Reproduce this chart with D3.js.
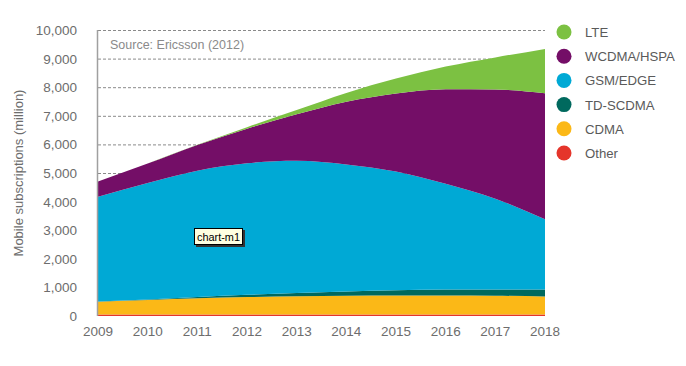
<!DOCTYPE html>
<html>
<head>
<meta charset="utf-8">
<script src="https://cdn.jsdelivr.net/npm/d3@7"></script>
<style>
  body { margin: 0; background: #fff; }
  svg { display: block; font-family: "Liberation Sans", Arial, sans-serif; }
</style>
</head>
<body>
<svg id="chart" width="686" height="366"></svg>
<script>
// Data (million subscriptions)
const years = [2009, 2010, 2011, 2012, 2013, 2014, 2015, 2016, 2017, 2018];
const seriesNames = ["Other", "CDMA", "TD-SCDMA", "GSM/EDGE", "WCDMA/HSPA", "LTE"];
const other = [50, 50, 50, 50, 50, 50, 50, 50, 50, 50];
const cdma = [450, 510, 570, 610, 640, 660, 670, 670, 660, 630];
const tdscdma = [10, 20, 40, 80, 110, 150, 180, 210, 220, 250];
const gsm = [3660, 4070, 4420, 4600, 4630, 4440, 4150, 3690, 3170, 2450];
const wcdma = [530, 680, 900, 1210, 1620, 2190, 2730, 3310, 3820, 4410];
const lte = [0, 0, 5, 50, 150, 310, 520, 790, 1120, 1550];
const yTicks = [0, 1000, 2000, 3000, 4000, 5000, 6000, 7000, 8000, 9000, 10000];
const legendOrder = ["LTE", "WCDMA/HSPA", "GSM/EDGE", "TD-SCDMA", "CDMA", "Other"];

const colors = {
  "LTE": "#7cc142",
  "WCDMA/HSPA": "#740e67",
  "GSM/EDGE": "#00a9d5",
  "TD-SCDMA": "#00695e",
  "CDMA": "#fbb817",
  "Other": "#e5352b"
};

const svg = d3.select("#chart");
const x = d3.scaleLinear().domain([2009, 2018]).range([98, 545]);
const y = d3.scaleLinear().domain([0, 10000]).range([316, 30]);

const table = years.map((yr, i) => ({
  year: yr,
  "Other": other[i],
  "CDMA": cdma[i],
  "TD-SCDMA": tdscdma[i],
  "GSM/EDGE": gsm[i],
  "WCDMA/HSPA": wcdma[i],
  "LTE": lte[i]
}));
const stacked = d3.stack().keys(seriesNames)(table);

// Grid lines
svg.append("g")
  .selectAll("line")
  .data(yTicks.filter(d => d > 0))
  .enter()
  .append("line")
  .attr("x1", x(2009))
  .attr("x2", x(2018))
  .attr("y1", d => y(d) + 0.5)
  .attr("y2", d => y(d) + 0.5)
  .attr("stroke", "#8a8a8a")
  .attr("stroke-width", 1)
  .attr("stroke-dasharray", "3,2");

// Areas
const area = d3.area()
  .x(d => x(d.data.year))
  .y0(d => y(d[0]))
  .y1(d => y(d[1]))
  .curve(d3.curveMonotoneX);

svg.append("g")
  .selectAll("path")
  .data(stacked)
  .enter()
  .append("path")
  .attr("d", area)
  .attr("fill", d => colors[d.key]);

// Vertical axis line
svg.append("line")
  .attr("x1", 97.5).attr("x2", 97.5)
  .attr("y1", y(10000)).attr("y2", y(0))
  .attr("stroke", "#a0a0a0")
  .attr("stroke-width", 1.5);

// Y tick labels
svg.append("g")
  .selectAll("text")
  .data(yTicks)
  .enter()
  .append("text")
  .attr("x", 77)
  .attr("y", d => y(d) + 5)
  .attr("text-anchor", "end")
  .attr("font-size", 13.5)
  .attr("fill", "#6d6d6d")
  .text(d => d3.format(",")(d));

// X tick labels
svg.append("g")
  .selectAll("text")
  .data(years)
  .enter()
  .append("text")
  .attr("x", d => x(d))
  .attr("y", 336)
  .attr("text-anchor", "middle")
  .attr("font-size", 13.5)
  .attr("fill", "#6d6d6d")
  .text(d => d);

// Y axis title
svg.append("text")
  .attr("transform", "translate(23,173) rotate(-90)")
  .attr("text-anchor", "middle")
  .attr("font-size", 13)
  .attr("fill", "#6d6d6d")
  .text("Mobile subscriptions (million)");

// Source note
svg.append("text")
  .attr("x", 110)
  .attr("y", 49)
  .attr("font-size", 12.5)
  .attr("fill", "#8a8a8a")
  .text("Source: Ericsson (2012)");

// Legend
const legend = svg.append("g")
  .selectAll("g")
  .data(legendOrder)
  .enter()
  .append("g")
  .attr("transform", (d, i) => `translate(564,${32 + i * 24.2})`);

legend.append("circle")
  .attr("r", 7.5)
  .attr("fill", d => colors[d]);

legend.append("text")
  .attr("x", 21)
  .attr("y", 5)
  .attr("font-size", 13.2)
  .attr("fill", "#5a5a5a")
  .text(d => d);

// chart-m1 tag
const tag = svg.append("g").attr("transform", "translate(194,228)");
tag.append("rect")
  .attr("x", 2).attr("y", 2)
  .attr("width", 49).attr("height", 17)
  .attr("fill", "#333");
tag.append("rect")
  .attr("x", 0.5).attr("y", 0.5)
  .attr("width", 48).attr("height", 16)
  .attr("fill", "#ffffe1")
  .attr("stroke", "#000")
  .attr("stroke-width", 1);
tag.append("text")
  .attr("x", 3)
  .attr("y", 12.5)
  .attr("font-family", "'Liberation Sans', Arial, sans-serif")
  .attr("font-size", 11.5)
  .attr("textLength", 43)
  .attr("lengthAdjust", "spacingAndGlyphs")
  .attr("fill", "#000")
  .text("chart-m1");
</script>
</body>
</html>
